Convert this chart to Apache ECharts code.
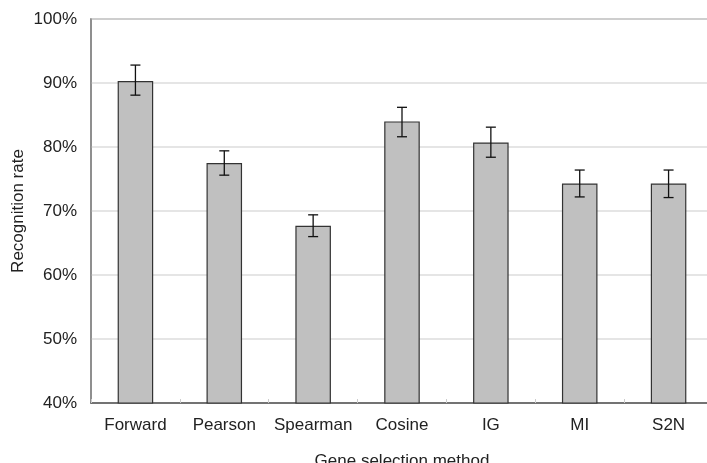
<!DOCTYPE html>
<html>
<head>
<meta charset="utf-8">
<script src="https://cdn.jsdelivr.net/npm/echarts@6/dist/echarts.min.js"></script>
<style>
  html, body { margin: 0; padding: 0; background: #ffffff; }
  #chart { width: 707px; height: 463px; }
</style>
</head>
<body>
<div id="chart"></div>
<script>
// Recognition rate (%) by gene selection method, with error bar bounds
const methods = ['Forward', 'Pearson', 'Spearman', 'Cosine', 'IG', 'MI', 'S2N'];
const rates = [90.3, 77.5, 67.7, 84.0, 80.7, 74.3, 74.3];
const errLow = [88.1, 75.6, 66.0, 81.6, 78.4, 72.2, 72.1];
const errHigh = [92.8, 79.4, 69.4, 86.2, 83.1, 76.4, 76.4];
const yTicks = [40, 50, 60, 70, 80, 90, 100];

const FONT = '"Liberation Sans", Arial, sans-serif';
const chart = echarts.init(document.getElementById('chart'), null, { renderer: 'canvas' });

const errData = methods.map((m, i) => [i, errLow[i], errHigh[i]]);

chart.setOption({
  animation: false,
  backgroundColor: '#ffffff',
  grid: {
    left: 91, top: 19, right: -6, bottom: 60,
    outerBoundsMode: 'none', containLabel: false,
    show: true, borderColor: '#888888', borderWidth: 1.5, backgroundColor: 'transparent'
  },
  xAxis: {
    type: 'category',
    data: methods,
    name: 'Gene selection method',
    nameLocation: 'middle',
    nameGap: 50,
    nameMoveOverlap: false,
    nameTextStyle: { fontFamily: FONT, fontSize: 17, color: '#222' },
    axisLine: { lineStyle: { color: '#555555', width: 1.5 } },
    axisTick: { show: true, inside: true, length: 4, lineStyle: { color: '#cccccc' } },
    axisLabel: { interval: 0, fontFamily: FONT, fontSize: 17, color: '#222', margin: 14 },
    splitLine: { show: false }
  },
  yAxis: {
    type: 'value',
    min: yTicks[0],
    max: yTicks[yTicks.length - 1],
    interval: 10,
    name: 'Recognition rate',
    nameLocation: 'middle',
    nameGap: 64,
    nameMoveOverlap: false,
    nameTextStyle: { fontFamily: FONT, fontSize: 17, color: '#222' },
    axisLine: { show: true, lineStyle: { color: '#888888', width: 1.5 } },
    axisTick: { show: false },
    axisLabel: { fontFamily: FONT, fontSize: 17, color: '#222', margin: 14, formatter: v => v + '%' },
    splitLine: { show: true, lineStyle: { color: '#dddddd', width: 1.5 } }
  },
  series: [
    {
      type: 'bar',
      data: rates,
      barWidth: '40%',
      itemStyle: { color: '#c0c0c0', borderColor: '#333333', borderWidth: 1.2 }
    },
    {
      type: 'custom',
      data: errData,
      z: 10,
      renderItem: function (params, api) {
        const x = api.value(0);
        const lo = api.coord([x, api.value(1)]);
        const hi = api.coord([x, api.value(2)]);
        const cap = 5;
        const style = { stroke: '#111111', lineWidth: 1.3 };
        return {
          type: 'group',
          children: [
            { type: 'line', shape: { x1: hi[0], y1: hi[1], x2: lo[0], y2: lo[1] }, style: style },
            { type: 'line', shape: { x1: hi[0] - cap, y1: hi[1], x2: hi[0] + cap, y2: hi[1] }, style: style },
            { type: 'line', shape: { x1: lo[0] - cap, y1: lo[1], x2: lo[0] + cap, y2: lo[1] }, style: style }
          ]
        };
      }
    }
  ]
});
</script>
</body>
</html>
